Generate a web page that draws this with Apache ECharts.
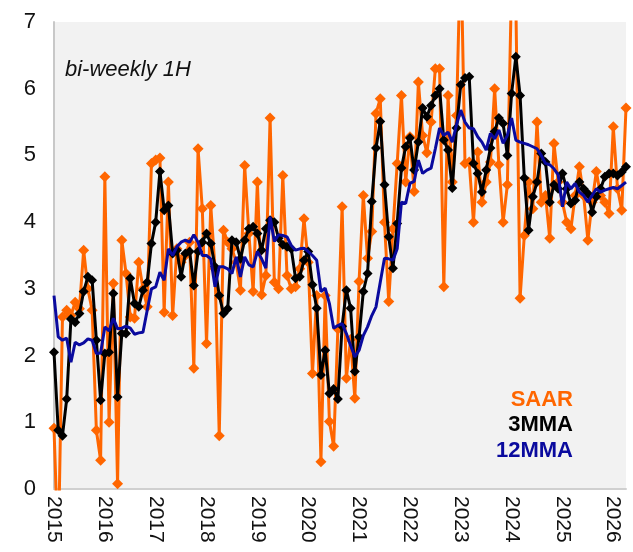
<!DOCTYPE html>
<html>
<head>
<meta charset="utf-8">
<script src="https://cdn.jsdelivr.net/npm/echarts@6/dist/echarts.min.js"></script>
<style>
html,body{margin:0;padding:0;background:#fff;}
#chart{width:633px;height:552px;}
</style>
</head>
<body>
<div id="chart"></div>
<script>
// Monthly observations, Jan 2015 .. Apr 2026
const startYear = 2015;
const pointCount = 136;
const yearLabels = ["2015","2016","2017","2018","2019","2020","2021","2022","2023","2024","2025","2026"];

const saar = [
  0.91,-1.0,2.58,2.68,2.6,2.8,2.7,3.58,3.0,2.68,0.88,0.43,
  4.68,1.0,3.08,0.08,3.73,3.23,2.58,2.56,3.4,3.0,2.73,4.88,
  4.93,4.96,2.65,4.6,2.6,3.6,3.4,3.5,3.7,1.81,5.1,4.2,
  2.18,4.25,3.3,0.8,3.88,3.7,3.6,3.4,2.98,4.85,3.83,2.96,
  4.6,2.91,3.2,5.56,3.1,3.0,4.7,3.2,3.0,3.03,3.3,4.05,
  3.4,1.73,2.9,0.41,2.9,1.01,0.64,2.4,4.23,1.66,2.24,1.36,
  3.11,4.4,3.46,3.86,5.63,5.85,4.0,2.81,3.9,4.88,5.9,4.6,
  5.28,4.46,6.1,5.3,5.04,5.5,6.3,6.3,3.03,5.9,4.6,5.6,
  8.2,4.88,4.9,4.0,5.05,4.3,4.6,4.9,6.0,4.86,4.0,4.56,
  7.6,7.3,2.86,3.8,4.6,4.2,5.5,4.3,4.4,3.76,5.18,4.6,
  4.3,4.0,3.9,4.4,4.83,4.4,3.73,4.3,4.76,4.4,4.3,4.13,
  5.43,4.5,4.18,5.71
];
const mma3 = [
  2.05,0.88,0.8,1.35,2.55,2.5,2.63,2.96,3.18,3.13,2.23,1.33,
  2.03,2.05,2.93,1.38,2.33,2.33,3.16,2.78,2.73,2.98,3.1,3.68,
  4.0,4.76,4.18,4.25,3.53,3.58,3.18,3.53,3.56,3.05,3.56,3.7,
  3.83,3.68,3.33,2.9,2.63,2.7,3.73,3.7,3.45,3.73,3.9,3.93,
  3.83,3.58,3.9,4.03,4.0,3.76,3.66,3.63,3.6,3.16,3.18,3.43,
  3.56,3.06,2.71,1.71,2.08,1.43,1.5,1.35,2.44,2.98,2.71,1.76,
  2.28,2.96,3.23,4.31,5.11,5.51,4.56,3.78,3.31,3.98,4.81,5.13,
  5.26,4.78,5.2,5.71,5.58,5.75,5.9,6.0,5.23,5.08,4.51,5.41,
  6.06,6.16,6.18,4.88,4.73,4.45,4.78,5.11,5.36,5.56,5.48,5.0,
  5.93,6.48,5.9,4.66,3.88,4.38,4.6,5.03,4.9,4.3,4.56,4.5,
  4.73,4.5,4.28,4.33,4.6,4.5,4.43,4.15,4.38,4.5,4.68,4.73,
  4.73,4.7,4.75,4.83
];
const mma12 = [
  2.9,2.28,2.23,2.26,1.9,2.2,2.16,2.19,2.25,2.23,2.03,2.04,
  2.43,2.37,2.56,2.4,2.41,2.44,2.41,2.32,2.34,2.35,2.68,3.0,
  3.03,3.25,3.13,3.6,3.5,3.63,3.7,3.73,3.7,3.81,3.7,3.5,
  3.5,3.45,3.03,3.33,3.33,3.3,3.23,3.48,3.18,3.48,3.36,3.33,
  3.56,3.45,3.31,4.08,3.71,3.81,3.8,3.78,3.65,3.58,3.6,3.61,
  3.56,3.5,3.43,2.96,3.01,2.78,2.41,2.45,2.48,2.33,2.15,1.98,
  2.08,2.3,2.43,2.6,2.73,3.1,3.46,3.45,3.43,3.6,4.3,4.28,
  4.58,4.61,4.93,4.73,4.78,4.81,5.1,5.41,5.3,5.35,5.2,5.46,
  5.68,5.5,5.41,5.4,5.28,5.2,5.08,5.33,5.25,5.38,5.18,5.3,
  5.56,5.23,5.2,5.18,5.16,5.13,5.1,5.0,4.88,4.86,4.8,4.71,
  4.23,4.6,4.5,4.58,4.45,4.4,4.3,4.4,4.5,4.45,4.48,4.5,
  4.52,4.5,4.55,4.6
];

const categories = [];
for (let i = 0; i < pointCount; i++) {
  const y = startYear + Math.floor(i / 12);
  const m = (i % 12) + 1;
  categories.push(y + "-" + (m < 10 ? "0" + m : m));
}

const ORANGE = "#FF6600";
const BLACK = "#000000";
const NAVY = "#0A0A9E";
const FONT = "Liberation Sans, Arial, sans-serif";

const chart = echarts.init(document.getElementById("chart"), null, {renderer: "canvas"});
chart.setOption({
  animation: false,
  backgroundColor: "#ffffff",
  grid: {left: 54, top: 22, right: 7, bottom: 63, show: true, backgroundColor: "#F2F2F2", borderWidth: 0},
  title: {
    text: "bi-weekly 1H", left: 60, top: 54,
    textStyle: {fontFamily: FONT, fontStyle: "italic", fontWeight: "normal", fontSize: 22, color: "#111"}
  },
  xAxis: {
    type: "category", data: categories, boundaryGap: false,
    axisLine: {show: true, lineStyle: {color: "#D0D0D0", width: 2}},
    axisTick: {show: false},
    splitLine: {show: false},
    axisLabel: {
      rotate: -90, margin: 7, fontFamily: FONT, fontSize: 21, color: "#111",
      interval: function (idx) { return idx % 12 === 0; },
      formatter: function (v) { return yearLabels[parseInt(v.slice(0, 4), 10) - startYear]; }
    }
  },
  yAxis: {
    type: "value", min: 0, max: 7, interval: 1,
    axisLine: {show: true, lineStyle: {color: "#C8C8C8", width: 2}},
    axisTick: {show: false},
    splitLine: {show: false},
    axisLabel: {fontFamily: FONT, fontSize: 22, color: "#111", margin: 18}
  },
  series: [
    {name: "SAAR", type: "line", data: saar, clip: true, symbol: "diamond", symbolSize: 11,
     showAllSymbol: true, lineStyle: {color: ORANGE, width: 3}, itemStyle: {color: ORANGE}, z: 2},
    {name: "3MMA", type: "line", data: mma3, clip: true, symbol: "diamond", symbolSize: 10,
     showAllSymbol: true, lineStyle: {color: BLACK, width: 3}, itemStyle: {color: BLACK}, z: 3},
    {name: "12MMA", type: "line", data: mma12, clip: true, symbol: "none",
     lineStyle: {color: NAVY, width: 3}, z: 4}
  ],
  graphic: [
    {type: "text", x: 573, y: 400, style: {text: "SAAR", fill: ORANGE, font: "bold 22px " + FONT, textAlign: "right", textVerticalAlign: "middle"}},
    {type: "text", x: 573, y: 425, style: {text: "3MMA", fill: BLACK, font: "bold 22px " + FONT, textAlign: "right", textVerticalAlign: "middle"}},
    {type: "text", x: 573, y: 451, style: {text: "12MMA", fill: NAVY, font: "bold 22px " + FONT, textAlign: "right", textVerticalAlign: "middle"}}
  ]
});
</script>
</body>
</html>
